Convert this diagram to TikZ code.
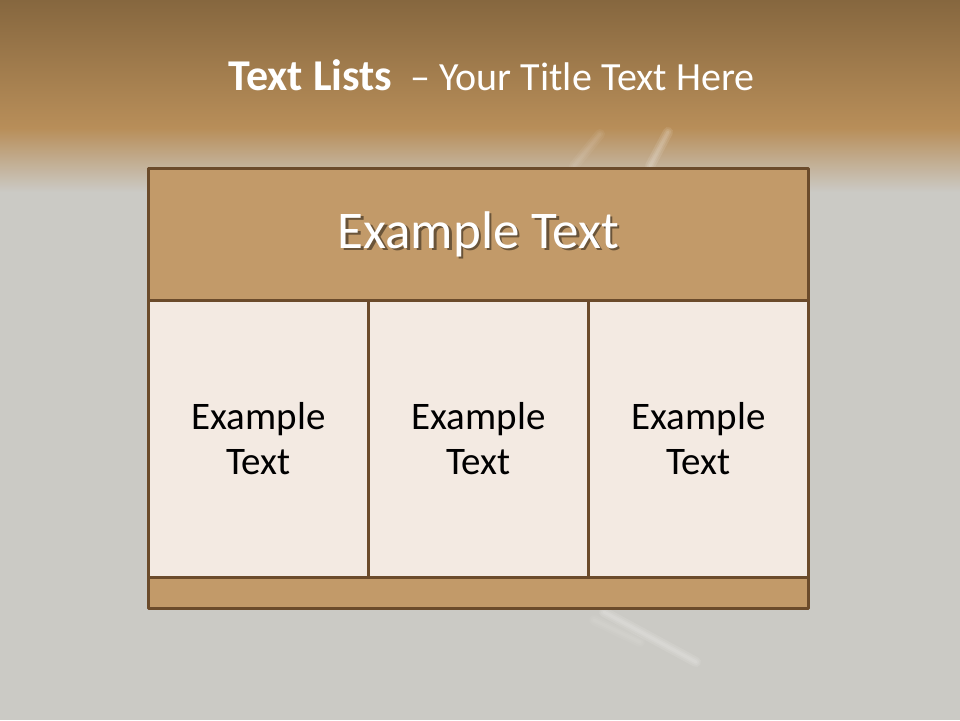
\documentclass[tikz,border=0pt]{standalone}
\usepackage{fontspec}
\setmainfont{Carlito}
\definecolor{bggray}{HTML}{CBCAC5}
\definecolor{bandtop}{HTML}{86673F}
\definecolor{bandlow}{HTML}{B88E59}
\definecolor{headfill}{HTML}{C29A69}
\definecolor{cellfill}{HTML}{F3EAE2}
\definecolor{rim}{HTML}{6B4B2B}
\tikzset{
  box/.style={draw=rim,line width=3,inner sep=0pt,outer sep=0pt},
  headcell/.style={box,fill=headfill,minimum width=660,minimum height=132},
  cell/.style={box,fill=cellfill,minimum width=220,minimum height=277,align=center,font=\fontsize{39}{45}\selectfont},
  footcell/.style={box,fill=headfill,minimum width=660,minimum height=31},
  headtext/.style={font=\fontsize{53}{60}\selectfont},
  title/.style={text=white,inner sep=0pt,font=\fontsize{40}{44}\selectfont},
  streak/.style={white,line cap=round,line width=6,opacity=.1}
}
\begin{document}
\begin{tikzpicture}[x=1pt,y=-1pt,line join=round]
\useasboundingbox (0,0) rectangle (960,720);
% background
\fill[bggray] (0,0) rectangle (960,720);
\shade[top color=bandtop,bottom color=bandlow] (0,0) rectangle (960,128);
\shade[top color=bandlow,bottom color=bggray] (0,128) rectangle (960,192);
\foreach \w in {10,6,3}{
  \draw[streak,line width=\w] (668,132)--(650,166);
  \draw[streak,line width=\w,opacity=.05] (600,134)--(574,166);
  \draw[streak,line width=\w] (604,612)--(696,662);
  \draw[streak,line width=\w,opacity=.05] (594,620)--(640,642);
}
% title
\node[title,anchor=west] (title) at (228,75) {{\fontsize{44}{44}\selectfont\bfseries Text Lists}\ \ – Your Title Text Here};
% table
\node[headcell] (head) at (478.5,234) {};
\foreach \x/\n in {258.5/a,478.5/b,698.5/c}
  \node[cell] (\n) at (\x,438.5) {Example\\Text};
\node[footcell] (foot) at (478.5,592.5) {};
\node[headtext,text=black,opacity=.45] (headshadow) at (481,236.5) {Example Text};
\node[headtext,text=white] (headlabel) at (head) {Example Text};
\end{tikzpicture}
\end{document}
